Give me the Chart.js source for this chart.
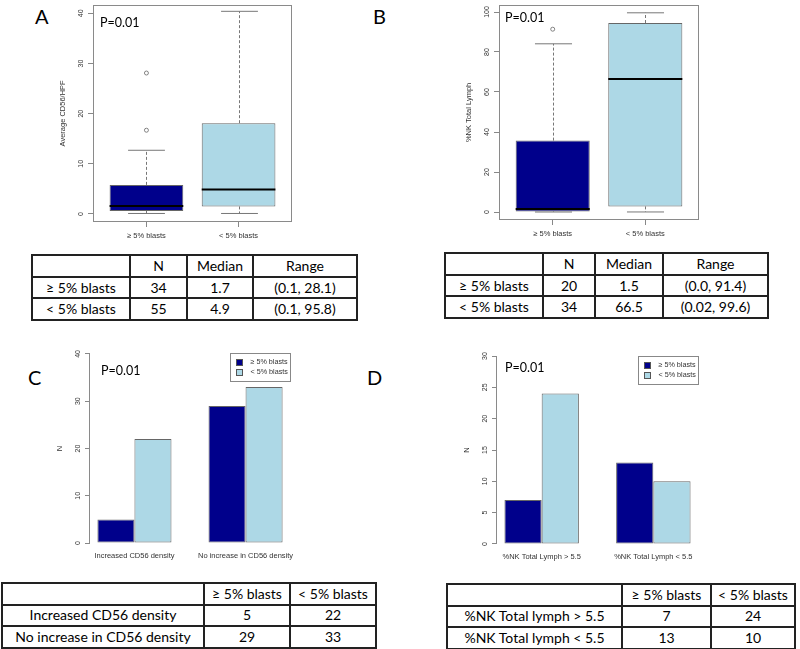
<!DOCTYPE html>
<html>
<head>
<meta charset="utf-8">
<title>CD56 density and NK cells by blast group</title>
<script src="https://cdn.jsdelivr.net/npm/chart.js"></script>
<style>
    body { margin: 0; background: #fff; }
    #page { position: relative; width: 800px; height: 649px; overflow: hidden; font-family: Lato, sans-serif; color: #000; }
    canvas { position: absolute; }
    .letter { position: absolute; font-size: 20px; line-height: 20px; }
    .pval { position: absolute; font-size: 12.5px; line-height: 12.5px; }
    table.tb { position: absolute; border-collapse: collapse; table-layout: fixed; font-size: 14px; }
    table.tb td { border: 2px solid #222; text-align: center; padding: 0; line-height: 14px; }
</style>
</head>
<body>
<div id="page">
    <div class="letter" style="left:35px; top:6px;">A</div>
    <div class="letter" style="left:373px; top:6px;">B</div>
    <div class="letter" style="left:28px; top:367px;">C</div>
    <div class="letter" style="left:367px; top:367px;">D</div>

    <canvas id="chartA" width="300" height="245" style="left:0px; top:0px;"></canvas>
    <canvas id="chartB" width="310" height="245" style="left:400px; top:0px;"></canvas>
    <canvas id="chartC" width="400" height="235" style="left:0px; top:330px;"></canvas>
    <canvas id="chartD" width="400" height="235" style="left:400px; top:330px;"></canvas>

    <div class="pval" style="left:100px; top:17px;">P=0.01</div>
    <div class="pval" style="left:505px; top:12px;">P=0.01</div>
    <div class="pval" style="left:101px; top:365px;">P=0.01</div>
    <div class="pval" style="left:505px; top:362px;">P=0.01</div>
</div>

<script>
    // groups used in every panel
    var blastGroups = ['≥ 5% blasts', '< 5% blasts'];

    // A: Average CD56/HPF box plot
    var cd56Low = [0.1, 0.1];
    var cd56Q1 = [0.6, 1.5];
    var cd56Median = [1.6, 4.9];
    var cd56Q3 = [5.8, 18.1];
    var cd56High = [12.7, 40.4];
    var cd56Outliers = [[28.1, 16.7], []];
    var cd56Ticks = [0, 10, 20, 30, 40];

    // B: %NK Total Lymph box plot
    var nkLow = [0.0, 0.02];
    var nkQ1 = [0.3, 2.8];
    var nkMedian = [1.5, 66.5];
    var nkQ3 = [35.7, 94.5];
    var nkHigh = [84.1, 99.6];
    var nkOutliers = [[91.4], []];
    var nkTicks = [0, 20, 40, 60, 80, 100];

    // C: CD56 density counts
    var densityGroups = ['Increased CD56 density', 'No increase in CD56 density'];
    var densityHighBlast = [5, 29];
    var densityLowBlast = [22, 33];
    var densityTicks = [0, 10, 20, 30, 40];

    // D: %NK total lymph counts
    var lymphGroups = ['%NK Total Lymph > 5.5', '%NK Total Lymph < 5.5'];
    var lymphHighBlast = [7, 13];
    var lymphLowBlast = [24, 10];
    var lymphTicks = [0, 5, 10, 15, 20, 25, 30];

    // tables
    var tableAHead = ['', 'N', 'Median', 'Range'];
    var tableARows = [['≥ 5% blasts', '34', '1.7', '(0.1, 28.1)'], ['< 5% blasts', '55', '4.9', '(0.1, 95.8)']];
    var tableBHead = ['', 'N', 'Median', 'Range'];
    var tableBRows = [['≥ 5% blasts', '20', '1.5', '(0.0, 91.4)'], ['< 5% blasts', '34', '66.5', '(0.02, 99.6)']];
    var tableCHead = ['', '≥ 5% blasts', '< 5% blasts'];
    var tableCRows = [['Increased CD56 density', '5', '22'], ['No increase in CD56 density', '29', '33']];
    var tableDHead = ['', '≥ 5% blasts', '< 5% blasts'];
    var tableDRows = [['%NK Total lymph > 5.5', '7', '24'], ['%NK Total lymph < 5.5', '13', '10']];

    var navy = '#00008B';
    var light = '#ADD8E6';
    var rFont = 'Liberation Sans';
    Chart.defaults.font.family = rFont;
    Chart.defaults.color = '#333';

    // frame, R style axis line and rotated y tick labels
    var rAxisPlugin = {
        id: 'rAxis',
        afterDraw: function(chart, args, opts) {
            var ctx = chart.ctx, a = chart.chartArea, ys = chart.scales.y;
            ctx.save();
            ctx.strokeStyle = '#8a8a8a';
            ctx.lineWidth = 1;
            if (opts.frame) {
                ctx.strokeRect(Math.round(a.left) + 0.5, Math.round(a.top) + 0.5,
                    Math.round(a.right - a.left) - 1, Math.round(a.bottom - a.top) - 1);
            }
            var vals = ys.ticks.map(function(t) { return t.value; });
            if (opts.axisLine) {
                var x = Math.round(a.left) - 0.5;
                ctx.beginPath();
                ctx.moveTo(x, ys.getPixelForValue(vals[0]));
                ctx.lineTo(x, ys.getPixelForValue(vals[vals.length - 1]));
                ctx.stroke();
            }
            ctx.fillStyle = '#333';
            ctx.font = '7px "' + rFont + '"';
            ctx.textAlign = 'center';
            ctx.textBaseline = 'middle';
            vals.forEach(function(v) {
                ctx.save();
                ctx.translate(a.left - 11.5, ys.getPixelForValue(v));
                ctx.rotate(-Math.PI / 2);
                ctx.fillText(String(v), 0, 0);
                ctx.restore();
            });
            ctx.restore();
        }
    };

    // whiskers and median lines for the box datasets
    var boxPlugin = {
        id: 'boxParts',
        afterDatasetsDraw: function(chart) {
            var ctx = chart.ctx, ys = chart.scales.y;
            var ds = chart.data.datasets[0];
            var meta = chart.getDatasetMeta(0);
            ctx.save();
            meta.data.forEach(function(el, i) {
                var cx = Math.round(el.x) + 0.5, w = el.width;
                var q1 = ys.getPixelForValue(ds.data[i].y[0]);
                var q3 = ys.getPixelForValue(ds.data[i].y[1]);
                var lo = ys.getPixelForValue(ds.whiskerLow[i]);
                var hi = ys.getPixelForValue(ds.whiskerHigh[i]);
                ctx.strokeStyle = '#777';
                ctx.lineWidth = 1;
                ctx.setLineDash([3, 2]);
                ctx.beginPath();
                ctx.moveTo(cx, q3); ctx.lineTo(cx, hi);
                ctx.moveTo(cx, q1); ctx.lineTo(cx, lo);
                ctx.stroke();
                ctx.setLineDash([]);
                ctx.beginPath();
                ctx.moveTo(cx - w / 4, hi); ctx.lineTo(cx + w / 4, hi);
                ctx.moveTo(cx - w / 4, lo); ctx.lineTo(cx + w / 4, lo);
                ctx.stroke();
                var m = ys.getPixelForValue(ds.medians[i]);
                ctx.strokeStyle = '#000';
                ctx.lineWidth = 2;
                ctx.beginPath();
                ctx.moveTo(el.x - w / 2, m); ctx.lineTo(el.x + w / 2, m);
                ctx.stroke();
            });
            ctx.restore();
        }
    };

    // boxed legend in the top right of the plot
    var rLegendPlugin = {
        id: 'rLegend',
        afterDraw: function(chart, args, opts) {
            var ctx = chart.ctx, a = chart.chartArea;
            var w = 60, h = 28;
            var x0 = Math.round(a.right - w) + 0.5, y0 = Math.round(a.top + opts.top) + 0.5;
            ctx.save();
            ctx.strokeStyle = '#888';
            ctx.lineWidth = 1;
            ctx.strokeRect(x0, y0, w, h);
            ctx.font = '7.2px "' + rFont + '"';
            ctx.textBaseline = 'middle';
            ctx.textAlign = 'left';
            chart.data.datasets.forEach(function(ds, i) {
                var cy = y0 + 9 + i * 10;
                ctx.fillStyle = ds.backgroundColor;
                ctx.fillRect(x0 + 6, cy - 3, 6, 6);
                ctx.strokeStyle = '#555';
                ctx.strokeRect(x0 + 6, cy - 3, 6, 6);
                ctx.fillStyle = '#333';
                ctx.fillText(ds.label, x0 + 20, cy);
            });
            ctx.restore();
        }
    };

    function tickSetter(values) {
        return function(scale) {
            scale.ticks = values.map(function(v) { return { value: v }; });
        };
    }

    function boxChart(id, low, q1, med, q3, high, outliers, ticks, yMin, yMax, title, pad, xHeight) {
        var outPoints = [];
        outliers.forEach(function(list, i) {
            list.forEach(function(v) { outPoints.push({ x: i + 1, y: v }); });
        });
        new Chart(document.getElementById(id).getContext('2d'), {
            type: 'bar',
            data: {
                datasets: [{
                    type: 'bar',
                    data: blastGroups.map(function(g, i) { return { x: i + 1, y: [q1[i], q3[i]] }; }),
                    backgroundColor: [navy, light],
                    borderColor: '#666',
                    borderWidth: 1,
                    borderSkipped: false,
                    categoryPercentage: 1,
                    barPercentage: 0.8,
                    medians: med,
                    whiskerLow: low,
                    whiskerHigh: high
                }, {
                    type: 'scatter',
                    data: outPoints,
                    pointRadius: 2,
                    pointBackgroundColor: 'rgba(0,0,0,0)',
                    pointBorderColor: '#666',
                    pointBorderWidth: 0.8
                }]
            },
            options: {
                responsive: false,
                animation: false,
                layout: { padding: pad },
                plugins: { legend: { display: false }, tooltip: { enabled: false }, rAxis: { frame: true } },
                scales: {
                    x: {
                        type: 'linear', min: 0.42, max: 2.58, offset: false,
                        afterBuildTicks: tickSetter([1, 2]),
                        afterFit: function(s) { s.height = xHeight; },
                        ticks: {
                            callback: function(v) { return blastGroups[v - 1] || ''; },
                            font: { size: 7.5 }, color: '#333', padding: 4, maxRotation: 0, autoSkip: false
                        },
                        grid: { offset: false, drawOnChartArea: false, tickLength: 5, color: '#888' },
                        border: { display: false }
                    },
                    y: {
                        min: yMin, max: yMax,
                        afterBuildTicks: tickSetter(ticks),
                        afterFit: function(s) { s.width = 39; },
                        ticks: { display: false },
                        grid: { drawOnChartArea: false, tickLength: 5, color: '#888' },
                        border: { display: false },
                        title: { display: true, text: title, font: { size: 7.5 }, color: '#333', padding: { top: 4, bottom: 4 } }
                    }
                }
            },
            plugins: [rAxisPlugin, boxPlugin]
        });
    }

    function barChart(id, groups, highBlast, lowBlast, ticks, yMin, yMax, pad, xHeight) {
        new Chart(document.getElementById(id).getContext('2d'), {
            type: 'bar',
            data: {
                datasets: [{
                    label: blastGroups[0],
                    data: groups.map(function(g, i) { return { x: i + 1, y: highBlast[i] }; }),
                    backgroundColor: navy
                }, {
                    label: blastGroups[1],
                    data: groups.map(function(g, i) { return { x: i + 1, y: lowBlast[i] }; }),
                    backgroundColor: light
                }]
            },
            options: {
                responsive: false,
                animation: false,
                layout: { padding: pad },
                datasets: { bar: { borderColor: '#666', borderWidth: 1, borderSkipped: false, categoryPercentage: 2 / 3, barPercentage: 1 } },
                plugins: { legend: { display: false }, tooltip: { enabled: false }, rAxis: { axisLine: true }, rLegend: { top: 7 } },
                scales: {
                    x: {
                        type: 'linear', min: 0.6, max: 2.4, offset: false,
                        afterBuildTicks: tickSetter([1, 2]),
                        afterFit: function(s) { s.height = xHeight; },
                        ticks: {
                            callback: function(v) { return groups[v - 1] || ''; },
                            font: { size: 7.5 }, color: '#333', padding: 1, maxRotation: 0, autoSkip: false
                        },
                        grid: { display: false, drawTicks: false, offset: false },
                        border: { display: false }
                    },
                    y: {
                        min: yMin, max: yMax,
                        afterBuildTicks: tickSetter(ticks),
                        afterFit: function(s) { s.width = 39; },
                        ticks: { display: false },
                        grid: { drawOnChartArea: false, tickLength: 5, color: '#888' },
                        border: { display: false },
                        title: { display: true, text: 'N', font: { size: 7.5 }, color: '#333', padding: { top: 4, bottom: 4 } }
                    }
                }
            },
            plugins: [rAxisPlugin, rLegendPlugin]
        });
    }

    function makeTable(head, rows, left, top, widths, rowH) {
        var t = document.createElement('table');
        t.className = 'tb';
        t.style.left = left + 'px';
        t.style.top = top + 'px';
        t.style.width = widths.reduce(function(s, w) { return s + w; }, 0) + 'px';
        var cg = document.createElement('colgroup');
        widths.forEach(function(w) {
            var c = document.createElement('col');
            c.style.width = w + 'px';
            cg.appendChild(c);
        });
        t.appendChild(cg);
        [head].concat(rows).forEach(function(r) {
            var tr = t.insertRow();
            tr.style.height = rowH + 'px';
            r.forEach(function(v) { tr.insertCell().textContent = v; });
        });
        document.getElementById('page').appendChild(t);
    }

    boxChart('chartA', cd56Low, cd56Q1, cd56Median, cd56Q3, cd56High, cd56Outliers, cd56Ticks,
        -1.6, 41.7, 'Average CD56/HPF', { left: 54, right: 8, top: 4, bottom: 0 }, 23);
    boxChart('chartB', nkLow, nkQ1, nkMedian, nkQ3, nkHigh, nkOutliers, nkTicks,
        -4, 103.6, '%NK Total Lymph', { left: 60, right: 11, top: 3, bottom: 0 }, 25);
    barChart('chartC', densityGroups, densityHighBlast, densityLowBlast, densityTicks,
        -1.6, 41.6, { left: 51, right: 110, top: 16.4, bottom: 0 }, 14.4);
    barChart('chartD', lymphGroups, lymphHighBlast, lymphLowBlast, lymphTicks,
        -1.2, 31.2, { left: 58, right: 102, top: 18.5, bottom: 0 }, 13.5);

    makeTable(tableAHead, tableARows, 31, 254, [98, 57, 66, 104], 21.7);
    makeTable(tableBHead, tableBRows, 444, 252, [98, 52, 68, 105], 21.7);
    makeTable(tableCHead, tableCRows, 1, 582, [202, 86, 86], 21.5);
    makeTable(tableDHead, tableDRows, 446, 583, [175, 89, 84], 21.5);
</script>
</body>
</html>
